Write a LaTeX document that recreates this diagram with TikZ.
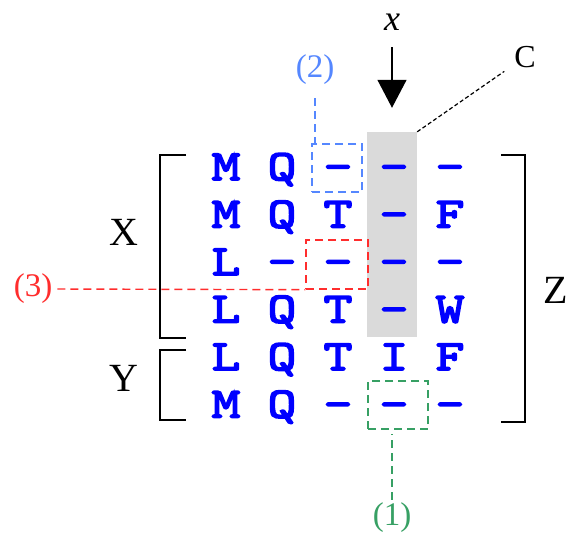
\documentclass[tikz,border=0pt]{standalone}
\usepackage{fontspec}
\setmainfont{Liberation Serif}
\newfontfamily\gridfont[FakeBold=4, FakeStretch=1.3]{Latin Modern Mono}
\usetikzlibrary{arrows.meta, positioning}
\definecolor{seqblue}{RGB}{0,0,255}
\definecolor{markblue}{RGB}{85,135,255}
\definecolor{markred}{RGB}{255,45,45}
\definecolor{markgreen}{RGB}{55,160,100}
\definecolor{colgray}{RGB}{218,218,218}

\begin{document}
\begin{tikzpicture}[x=1pt, y=-1pt,
    res/.style={text=seqblue, font=\gridfont\fontsize{43}{43}\selectfont,
      inner sep=0pt, text height=26pt, text depth=0pt},
    mark/.style={draw=#1, line width=1.4pt, dash pattern=on 8pt off 5pt, inner sep=0pt},
    marklbl/.style={text=#1, font=\fontsize{33}{33}\selectfont, inner sep=1pt},
    bracket/.style={line width=1.3pt},
    setlbl/.style={font=\fontsize{40}{40}\selectfont, inner sep=0pt}]
    \useasboundingbox (0,0) rectangle (571,533);

    % Highlighted column
    \node[fill=colgray, inner sep=0pt, minimum width=50pt, minimum height=205pt] (gcol) at (392,234.5) {};

    % Alignment
    \foreach \row [count=\i] in {{M,Q,-,-,-},{M,Q,T,-,F},{L,-,-,-,-},{L,Q,T,-,W},{L,Q,T,I,F},{M,Q,-,-,-}} {
        \foreach \res [count=\j] in \row {
            \node[res] (r\i-\j) at ({170+56*\j}, {119.5+47.5*\i}) {\res};
        }
    }

    % Brackets
    \draw[bracket] (186,155) -- (160,155) -- (160,338) -- (186,338);
    \draw[bracket] (186,350) -- (160,350) -- (160,420) -- (186,420);
    \draw[bracket] (501,155) -- (525,155) -- (525,422) -- (501,422);
    \node[setlbl] (setX) at (124,232) {X};
    \node[setlbl] (setY) at (124,378) {Y};
    \node[setlbl] (setZ) at (556,290) {Z};

    % Column pointer
    \node[font=\itshape\fontsize{36}{36}\selectfont, inner sep=0pt] (lblx) at (392,22) {x};
    \draw[line width=1.3pt, -{Triangle[width=29pt, length=28pt]}, shorten <=17pt, shorten >=24pt] (lblx) -- (gcol.north);
    \node[font=\fontsize{32}{32}\selectfont, inner sep=0pt] (lblC) at (525,57) {C};
    \draw[dash pattern=on 4pt off 2.5pt, line width=1.2pt, shorten >=12pt] (gcol.north east) -- (lblC);

    % Marked gaps
    \node[mark=markblue, minimum width=50pt, minimum height=48pt] (m2) at (337,168) {};
    \node[mark=markred, minimum width=62pt, minimum height=49pt] (m3) at (337,264.5) {};
    \node[mark=markgreen, minimum width=60pt, minimum height=48pt] (m1) at (398,405) {};

    \node[marklbl=markblue] (lbl2) at (315,70) {(2)};
    \node[marklbl=markred] (lbl3) at (33,289) {(3)};
    \node[marklbl=markgreen] (lbl1) at (392,518) {(1)};

    \draw[mark=markblue, shorten <=12pt] (lbl2.south) -- (lbl2.south |- m2.north);
    \draw[mark=markred, shorten <=4pt] (lbl3.east) -- (m3.south west);
    \draw[mark=markgreen, shorten <=2pt, shorten >=4pt] (lbl1.north) -- (lbl1.north |- m1.south);
\end{tikzpicture}
\end{document}
